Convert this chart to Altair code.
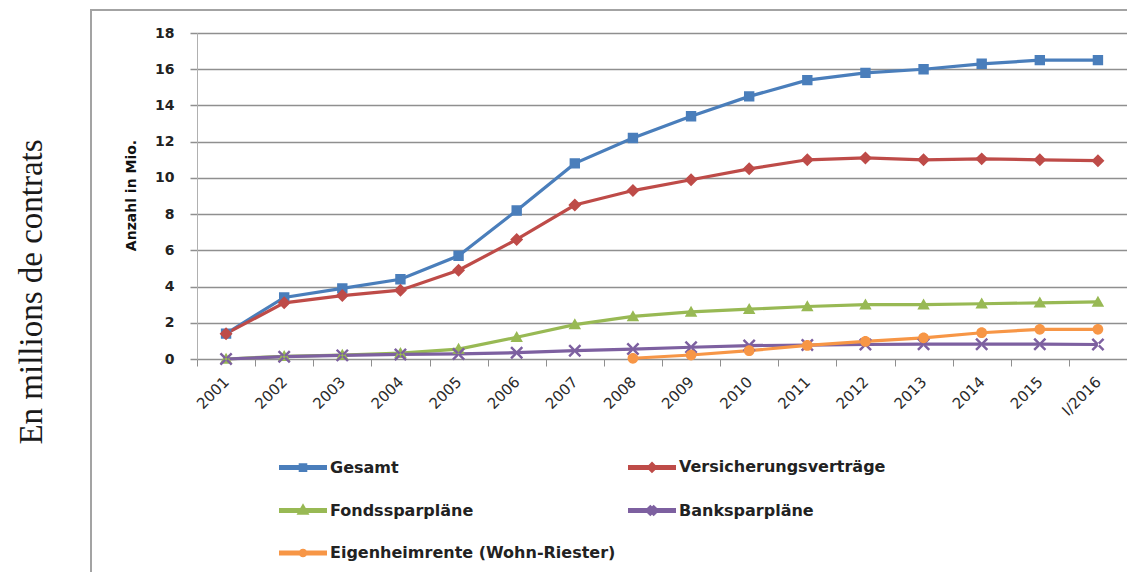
import altair as alt
import pandas as pd

years = ["2001", "2002", "2003", "2004", "2005", "2006", "2007", "2008",
         "2009", "2010", "2011", "2012", "2013", "2014", "2015", "I/2016"]
series_names = ["Gesamt", "Versicherungsverträge", "Fondssparpläne",
                "Banksparpläne", "Eigenheimrente (Wohn-Riester)"]
gesamt = [1.4, 3.4, 3.9, 4.4, 5.7, 8.2, 10.8, 12.2, 13.4, 14.5, 15.4, 15.8, 16.0, 16.3, 16.5, 16.5]
versicherung = [1.4, 3.1, 3.5, 3.8, 4.9, 6.6, 8.5, 9.3, 9.9, 10.5, 11.0, 11.1, 11.0, 11.05, 11.0, 10.95]
fonds = [0.0, 0.15, 0.22, 0.32, 0.55, 1.2, 1.9, 2.35, 2.6, 2.75, 2.9, 3.0, 3.0, 3.05, 3.1, 3.15]
bank = [0.0, 0.13, 0.2, 0.25, 0.28, 0.35, 0.46, 0.55, 0.65, 0.74, 0.77, 0.8, 0.82, 0.82, 0.82, 0.8]
eigenheim = [None, None, None, None, None, None, None, 0.04, 0.22, 0.46, 0.75, 0.97, 1.17, 1.45, 1.64, 1.64]

colors = ["#4A7EBB", "#BE4B48", "#98B954", "#7D60A0", "#F79646"]
# custom symbols: horizontal legend line (stroke only) + filled marker
shapes = [
    "M-8,0H8M-0.6,-0.6H0.6V0.6H-0.6Z",
    "M-8,0H8M0,-0.75L0.75,0L0,0.75L-0.75,0Z",
    "M-8,0H8M0,-0.72L0.72,0.55H-0.72Z",
    "M-8,0H8M-0.55,-0.75L0.75,0.55L0.55,0.75L-0.75,-0.55ZM-0.55,0.75L0.75,-0.55L0.55,-0.75L-0.75,0.55Z",
    "M-8,0H8M0.62,0A0.62,0.62 0 1,1 -0.62,0A0.62,0.62 0 1,1 0.62,0Z",
]

all_values = [gesamt, versicherung, fonds, bank, eigenheim]
rows = []
for name, vals in zip(series_names, all_values):
    for yr, v in zip(years, vals):
        if v is not None:
            rows.append({"year": yr, "series": name, "value": v})
df = pd.DataFrame(rows)

W, H = 930, 326
GRID = "#8f8f8f"

x_enc = alt.X("year:N", sort=years,
              scale=alt.Scale(type="band", domain=years, paddingInner=0, paddingOuter=0),
              axis=alt.Axis(title=None, grid=False, domainColor=GRID, tickColor=GRID,
                            tickSize=7, tickBand="extent", labelAngle=-45,
                            labelAlign="right", labelBaseline="middle",
                            labelFont="DejaVu Sans", labelFontSize=15, labelColor="#2a2a2a",
                            labelPadding=13))
y_enc = alt.Y("value:Q", scale=alt.Scale(domain=[0, 18], nice=False),
              axis=alt.Axis(title="Anzahl in Mio.", values=list(range(0, 19, 2)),
                            grid=True, gridColor=GRID, gridWidth=1.5,
                            domainColor="#b0b0b0", tickColor=GRID, tickWidth=1.5, tickSize=7,
                            labelFont="DejaVu Sans", labelFontSize=14, labelFontWeight="bold",
                            labelColor="#222222", labelPadding=16,
                            titleFont="DejaVu Sans", titleFontSize=14, titleFontWeight="bold",
                            titleColor="#111111", titleAngle=270, titleX=-66, titleY=162,
                            titleAlign="center", titleBaseline="middle"))

color_scale = alt.Scale(domain=series_names, range=colors)
shape_scale = alt.Scale(domain=series_names, range=shapes)

legend = alt.Legend(orient="none", legendX=98, legendY=426, columns=2,
                    direction="horizontal",
                    columnPadding=2, rowPadding=17.5, title=None,
                    labelFont="DejaVu Sans", labelFontSize=16, labelFontWeight="bold",
                    labelColor="#222222", labelLimit=0, labelOffset=19,
                    symbolSize=36, symbolStrokeWidth=5, symbolOpacity=1)

base = alt.Chart(df)

lines = base.mark_line(strokeWidth=3.2).encode(
    x=x_enc, y=y_enc,
    color=alt.Color("series:N", scale=color_scale, legend=None))

points = base.mark_point(filled=True, opacity=1, size=300, strokeWidth=0).encode(
    x=x_enc, y=y_enc,
    color=alt.Color("series:N", scale=color_scale, legend=None),
    shape=alt.Shape("series:N", scale=shape_scale, legend=None))

legend_layer = base.transform_filter("false").mark_point(
    filled=True, opacity=1, size=36, strokeWidth=5).encode(
    x=x_enc, y=y_enc,
    color=alt.Color("series:N", scale=color_scale, legend=legend),
    stroke=alt.Stroke("series:N", scale=color_scale, legend=legend),
    shape=alt.Shape("series:N", scale=shape_scale, legend=legend))

one = pd.DataFrame({"k": [0]})
frame = alt.Chart(one).mark_rect(fillOpacity=0, stroke="#a3a3a3", strokeWidth=2).encode(
    x=alt.value(-106), x2=alt.value(W + 60), y=alt.value(-23), y2=alt.value(H + 400))

side_text = alt.Chart(one).mark_text(
    text="En millions de contrats", angle=270, font="Liberation Serif", fontSize=33,
    align="center", baseline="alphabetic", color="#1a1a1a").encode(
    x=alt.value(-155), y=alt.value(259))

chart = alt.layer(frame, side_text, lines, points, legend_layer).resolve_legend(
    color="independent", shape="independent", stroke="independent"
).properties(
    width=W, height=H,
    padding={"left": 189, "top": 25, "right": 0, "bottom": 213},
    autosize=alt.AutoSizeParams(type="none"),
).configure_view(stroke=None).configure(background="white")

chart.save("out.html", embed_options={"renderer": "svg", "actions": False})
